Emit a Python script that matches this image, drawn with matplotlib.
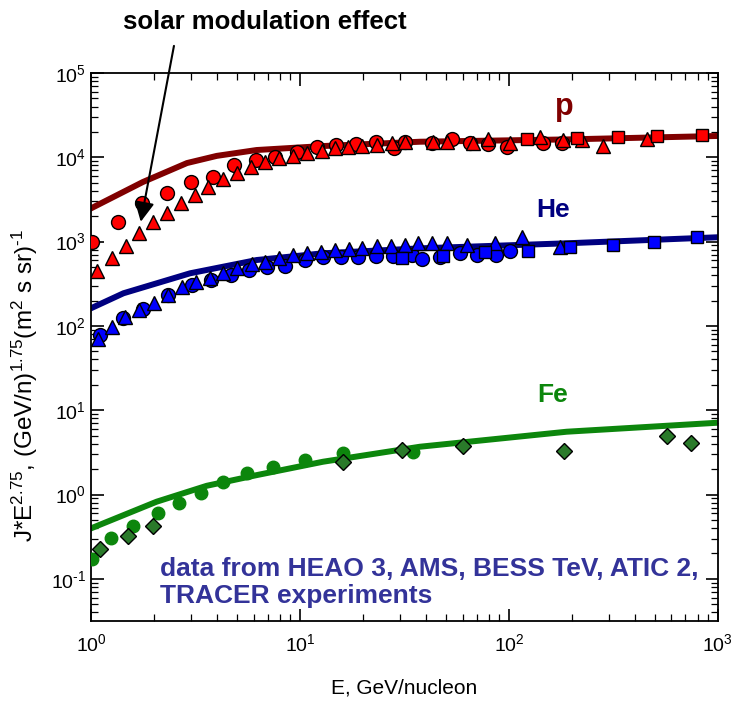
import numpy as np
import matplotlib
matplotlib.use("Agg")
import matplotlib.pyplot as plt

plt.rcParams['font.family'] = ['Liberation Sans', 'DejaVu Sans']
plt.rcParams['mathtext.fontset'] = 'custom'
plt.rcParams['mathtext.rm'] = 'Liberation Sans'
plt.rcParams['mathtext.it'] = 'Liberation Sans:italic'
plt.rcParams['mathtext.bf'] = 'Liberation Sans:bold'

# --- model curves ---
p_line_E = [1.0, 1.77, 2.88, 4.0, 6.2, 12.9, 37.5, 189, 986]
p_line_J = [2480, 5090, 8550, 10400, 12200, 13600, 15300, 16300, 17900]
he_line_E = [1.0, 1.43, 2.98, 6.21, 12.9, 37.5, 189, 986]
he_line_J = [162, 244, 421, 605, 727, 832, 955, 1125]
fe_line_E = [1.0, 2.06, 3.58, 6.21, 12.9, 37.5, 189, 1000]
fe_line_J = [0.397, 0.822, 1.27, 1.70, 2.45, 3.69, 5.56, 7.11]

# --- protons ---
p_circ_E = [1.008, 1.342, 1.748, 2.30, 3.00, 3.82, 4.83, 6.14, 7.59, 9.64, 12.0, 14.9,
            18.5, 23.1, 28.2, 31.8, 42.7, 53.2, 65.0, 79.4, 97.5, 145, 179]
p_circ_J = [1000, 1722, 2893, 3802, 5140, 5790, 8100, 9290, 10160, 11650, 13140, 14000,
            14370, 15300, 12790, 15300, 14900, 16350, 14900, 14370, 13140, 14900, 14700]
p_tri_E = [1.072, 1.256, 1.47, 1.70, 1.99, 2.32, 2.70, 3.14, 3.64, 4.27, 4.98, 5.83, 6.80,
           7.94, 9.29, 10.8, 12.7, 14.7, 17.0, 19.9, 23.3, 27.5, 31.8, 43.3, 50.3, 67.3,
           79.4, 101, 141, 182, 223, 283, 456]
p_tri_J = [452, 634, 894, 1254, 1694, 2203, 2845, 3570, 4480, 5530, 6460, 7740, 8730,
           9730, 10440, 11150, 11970, 12790, 13140, 13600, 14000, 14660, 15300, 15300,
           15300, 14660, 16350, 14660, 17260, 16030, 16030, 13600, 16350]
p_sq_E = [121.5, 211, 333, 509, 836]
p_sq_J = [16350, 16800, 17260, 17900, 18400]

# --- helium ---
he_tri_E = [1.08, 1.26, 1.45, 1.70, 2.00, 2.34, 2.72, 3.18, 3.71, 4.30, 4.98, 5.87, 6.80,
            7.96, 9.29, 10.8, 12.6, 14.7, 17.2, 19.9, 23.3, 27.2, 31.8, 36.8, 42.7, 50.3,
            62.8, 85.7, 116, 175]
he_tri_J = [69.3, 96, 128, 155, 185, 233, 292, 334, 367, 428, 482, 542, 578, 634, 693,
            739, 759, 794, 811, 832, 887, 887, 912, 971, 971, 955, 912, 971, 1125, 855]
he_circ_E = [1.10, 1.43, 1.78, 2.34, 3.03, 3.74, 4.66, 5.72, 6.98, 8.47, 10.6, 12.9, 15.7,
             19.0, 23.1, 27.8, 34.2, 38.2, 46.8, 58.3, 70.5, 86.7, 101]
he_circ_J = [78, 123, 157, 233, 305, 350, 402, 460, 495, 514, 605, 662, 651, 651, 675,
             675, 693, 617, 662, 738, 693, 693, 780]
he_sq_E = [30.7, 48.5, 76.8, 124, 196, 316, 494, 796]
he_sq_J = [634, 675, 759, 780, 855, 912, 998, 1125]

# --- iron ---
fe_circ_E = [1.008, 1.24, 1.59, 2.10, 2.65, 3.35, 4.30, 5.56, 7.45, 10.6, 16.1, 34.8]
fe_circ_J = [0.170, 0.302, 0.423, 0.598, 0.80, 1.03, 1.39, 1.81, 2.14, 2.57, 3.13, 3.22]
fe_dia_E = [1.10, 1.51, 1.99, 16.1, 30.7, 60.0, 183, 569, 740]
fe_dia_J = [0.224, 0.322, 0.423, 2.45, 3.37, 3.76, 3.31, 4.94, 4.05]

fig = plt.figure(figsize=(7.34, 7.06), dpi=100)
ax = fig.add_axes([0.124, 0.1204, 0.854, 0.7762])
ax.set_xscale('log')
ax.set_yscale('log')

lw = 4.3
ax.plot(p_line_E, p_line_J, '-', color='#800000', lw=lw, zorder=2)
ax.plot(he_line_E, he_line_J, '-', color='#000080', lw=lw, zorder=2)
ax.plot(fe_line_E, fe_line_J, '-', color='#0c860c', lw=lw, zorder=2)

mk = dict(linestyle='none', markeredgecolor='black', markeredgewidth=1.0, zorder=3)
ax.plot(p_circ_E, p_circ_J, 'o', color='#ff0000', ms=10, **mk)
ax.plot(p_tri_E, p_tri_J, '^', color='#ff0000', ms=10, **mk)
ax.plot(p_sq_E, p_sq_J, 's', color='#ff0000', ms=8.5, **mk)
ax.plot(he_circ_E, he_circ_J, 'o', color='#0000ff', ms=10, **mk)
ax.plot(he_tri_E, he_tri_J, '^', color='#0000ff', ms=10, **mk)
ax.plot(he_sq_E, he_sq_J, 's', color='#0000ff', ms=8.5, **mk)
ax.plot(fe_circ_E, fe_circ_J, 'o', color='#0c860c', ms=9, linestyle='none', zorder=3)
ax.plot(fe_dia_E, fe_dia_J, 'D', color='#2a7a2a', ms=8, **mk)

ax.set_xlim(1, 1000)
ax.set_ylim(10**-1.5, 1e5)

ax.tick_params(which='both', direction='in', top=True, right=True, labelsize=14)
ax.tick_params(which='major', length=9, width=1.2)
ax.tick_params(which='minor', length=5, width=0.9)
ax.tick_params(axis='x', pad=9)
ax.set_yticks([1e-1, 1e0, 1e1, 1e2, 1e3, 1e4, 1e5])
ax.set_yticklabels(['10$^{\\text{-}1}$', '10$^{0}$', '10$^{1}$', '10$^{2}$', '10$^{3}$',
                    '10$^{4}$', '10$^{5}$'])
ax.set_xticks([1, 10, 100, 1000])
ax.set_xticklabels(['10$^{0}$', '10$^{1}$', '10$^{2}$', '10$^{3}$'])
for s in ax.spines.values():
    s.set_linewidth(1.3)

ax.set_xlabel('E, GeV/nucleon', fontsize=15)
ax.xaxis.set_label_coords(0.5, -0.105)
ax.set_ylabel('J*E$^{2.75}$, (GeV/n)$^{1.75}$(m$^{2}$ s sr)$^{\\text{-}1}$', fontsize=17.5)
ax.yaxis.set_label_coords(-0.081, 0.43)

ax.text(185, 39500, 'p', color='#800000', fontsize=22, fontweight='bold',
        ha='center', va='center')
ax.text(162, 2370, 'He', color='#000080', fontsize=19, fontweight='bold',
        ha='center', va='center')
ax.text(162, 15.1, 'Fe', color='#0c860c', fontsize=19, fontweight='bold',
        ha='center', va='center')

ax.text(0.110, 0.071, 'data from HEAO 3, AMS, BESS TeV, ATIC 2,\nTRACER experiments',
        transform=ax.transAxes, color='#333399', fontsize=19, fontweight='bold',
        ha='left', va='center', linespacing=1.15)

fig.text(0.361, 0.969, 'solar modulation effect', fontsize=18.5, fontweight='bold',
         ha='center', va='center')
ax.annotate('', xy=(1.73, 1720), xycoords='data',
            xytext=(0.237, 0.935), textcoords='figure fraction',
            arrowprops=dict(arrowstyle='-|>', color='black', lw=1.5,
                            mutation_scale=30, shrinkA=0, shrinkB=0),
            annotation_clip=False)

fig.savefig('out.png', dpi=100)
